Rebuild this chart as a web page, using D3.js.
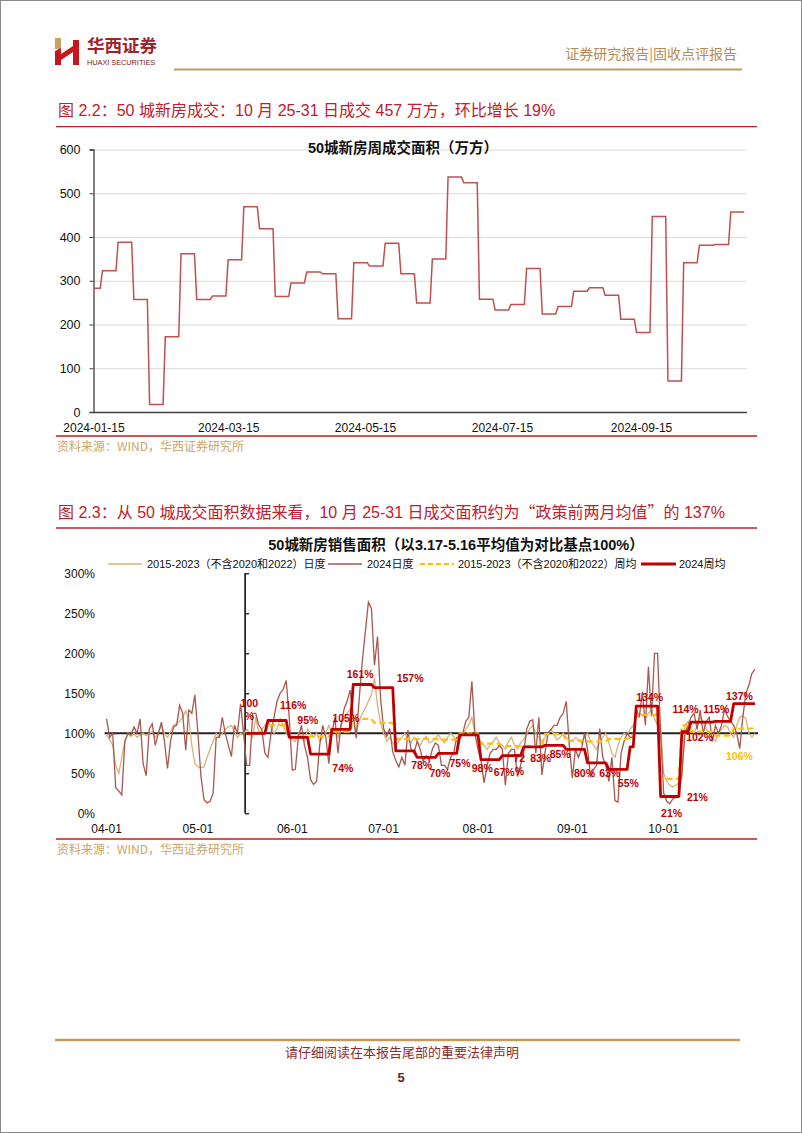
<!DOCTYPE html>
<html><head><meta charset="utf-8">
<script src="https://cdn.jsdelivr.net/npm/d3@7"></script>
<style>body{margin:0;background:#fff}svg{display:block}</style>
</head><body>
<svg id="page" width="802" height="1133"></svg>
<script>
// ---------------- DATA ----------------
// Figure 2.2 : weekly transaction area (万方), weeks Fri–Thu
const weekStart1 = ["2024-01-12","2024-01-19","2024-01-26","2024-02-02","2024-02-09","2024-02-16","2024-02-23",
 "2024-03-01","2024-03-08","2024-03-15","2024-03-22","2024-03-29","2024-04-05","2024-04-12","2024-04-19","2024-04-26",
 "2024-05-03","2024-05-10","2024-05-17","2024-05-24","2024-05-31","2024-06-07","2024-06-14","2024-06-21","2024-06-28",
 "2024-07-05","2024-07-12","2024-07-19","2024-07-26","2024-08-02","2024-08-09","2024-08-16","2024-08-23","2024-08-30",
 "2024-09-06","2024-09-13","2024-09-20","2024-09-27","2024-10-04","2024-10-11","2024-10-18","2024-10-25"];
const weeklyArea = [283,323,388,257,17,172,362,257,265,348,469,419,264,295,320,316,213,341,334,386,316,249,350,537,524,
 258,233,246,328,224,241,276,284,267,212,182,447,71,341,381,383,457];
const y1Ticks = [0,100,200,300,400,500,600];
const x1TickLabels = ["2024-01-15","2024-03-15","2024-05-15","2024-07-15","2024-09-15"];

// Figure 2.3 : daily values from 04-01 to 10-31 (% of 3.17–5.16 average)
const daily2024 = [
 118,95,100,32,28,23,90,100,98,108,100,118,62,47,105,112,85,100,114,90,56,90,108,110,135,125,79,129,125,148,
 100,46,17,13,15,25,95,95,120,100,85,71,110,100,137,100,60,60,125,125,110,105,75,70,100,120,140,150,155,166,120,
 54,55,95,110,85,70,42,36,40,85,110,95,62,100,120,75,110,130,140,154,123,94,144,190,227,264,256,185,221,144,
 106,96,106,77,66,58,70,60,104,80,75,90,80,65,72,65,80,88,85,60,60,55,70,75,95,95,100,115,120,165,100,
 80,66,38,60,75,80,80,85,80,35,75,80,80,46,60,75,105,115,117,75,120,48,75,100,105,110,110,120,125,140,85,
 44,80,70,80,100,80,45,55,60,106,70,60,40,70,16,14,75,90,100,95,95,130,120,152,110,183,121,200,200,100,
 25,15,12,18,20,21,50,100,110,120,125,105,129,100,115,120,90,110,100,110,130,121,115,110,100,81,120,150,160,175,180];
const dailyHist = [
 98,92,85,60,50,70,90,100,96,100,95,98,100,97,100,102,95,100,110,100,95,102,110,112,115,120,128,118,85,62,
 58,57,58,70,80,90,100,95,100,105,108,110,102,95,100,98,105,100,95,120,100,105,110,115,108,100,105,118,110,100,95,
 92,90,100,95,90,105,100,95,100,90,95,100,110,100,105,95,110,118,125,130,122,100,115,125,131,140,148,169,135,113,
 100,90,95,88,85,90,95,100,92,88,95,90,85,92,96,88,90,94,98,92,88,95,100,96,90,92,98,105,110,120,100,
 95,90,85,80,85,90,95,88,85,80,90,95,85,80,88,92,100,105,110,100,95,90,95,100,105,98,92,95,100,95,90,
 90,95,92,88,95,100,90,85,80,90,95,100,88,75,70,85,95,100,98,105,110,120,125,122,120,125,130,118,110,110,
 50,40,35,33,35,38,45,110,115,105,100,110,120,115,105,100,95,90,100,105,110,108,100,95,110,120,122,118,100,95,100];
const weekStart2 = ["2024-05-17","2024-05-24","2024-05-31","2024-06-07","2024-06-14","2024-06-21","2024-06-28",
 "2024-07-05","2024-07-12","2024-07-19","2024-07-26","2024-08-02","2024-08-09","2024-08-16","2024-08-23","2024-08-30",
 "2024-09-06","2024-09-13","2024-09-20","2024-09-22","2024-09-30","2024-10-07","2024-10-10","2024-10-18","2024-10-24"];
const weekEnd2 = "2024-10-31";
const weekly2024 = [100,116,95,74,105,161,157,78,70,75,98,67,72,83,85,80,63,55,83,134,21,102,114,115,137];
const weeklyHist = [100,110,96,96,102,118,113,93,93,92,100,87,84,84,99,91,90,93,95,123,43,110,102,97,106];
const y2Ticks = [0,50,100,150,200,250,300];
const x2TickLabels = ["2024-04-01","2024-05-01","2024-06-01","2024-07-01","2024-08-01","2024-09-01","2024-10-01"];
// annotations: text, days after 04-01, value
const ann2024 = [["100\n%",46.9,137.9],["116%",61.3,135.4],["95%",66.1,116.6],["74%",77.6,56.6],["105%",78.6,119.1],
 ["161%",83.3,174.1],["157%",99.7,169.1],["78%",103.5,60.4],["70%",109.5,50.4],["75%",116.1,62.9],["98%",123.4,56.6],
 ["67%",130.6,51.6],["72\n%",135.6,69.1],["83%",142.6,69.1],["85%",149.0,73.4],["80%",157,50.4],["63%",165.3,50.4],
 ["55%",171.4,37.9],["134%",178.4,145.4],["21%",185.6,0.4],["21%",194.1,20.4],["102%",194.8,95.4],["114%",190.2,130.4],
 ["115%",200.3,130.4],["137%",207.9,146.6]];
const annHist = [["106%",207.9,71.6]];

// ---------------- DRAW ----------------
const svg = d3.select("#page");
const SANS = "'Liberation Sans','Noto Sans CJK SC',sans-serif";
const CJK = "'Noto Sans CJK SC','Liberation Sans',sans-serif";
const parse = d3.timeParse("%Y-%m-%d");
const RED = "#C0202A", TAN = "#C49A5A";

svg.append("rect").attr("x",0.5).attr("y",0.5).attr("width",801).attr("height",1132)
  .attr("fill","#fff").attr("stroke","#8a8a8a");

// header logo
const logo = svg.append("g");
logo.append("rect").attr("x",55).attr("y",38).attr("width",6).attr("height",11).attr("fill","#C9A063");
logo.append("path").attr("d","M55,51 L61,48 L61,65 L55,65 Z").attr("fill","#C8161D");
logo.append("path").attr("d","M61,54 L73,46 L73,52 L61,60 Z").attr("fill","#C8161D");
logo.append("rect").attr("x",73).attr("y",40).attr("width",6).attr("height",25).attr("fill","#C8161D");
svg.append("text").attr("x",87).attr("y",52).text("华西证券")
  .attr("font-family",CJK).attr("font-weight","bold").attr("font-size",17.5).attr("fill","#A0222A");
svg.append("text").attr("x",87).attr("y",64.5).text("HUAXI SECURITIES")
  .attr("font-family",SANS).attr("font-size",7.3).attr("fill","#7a2020");
svg.append("text").attr("x",737).attr("y",58.5).attr("text-anchor","end").text("证券研究报告|固收点评报告")
  .attr("font-family",CJK).attr("font-size",14).attr("fill","#B58C55");
svg.append("line").attr("x1",174).attr("x2",742).attr("y1",69.5).attr("y2",69.5).attr("stroke",TAN).attr("stroke-width",2);

// captions
function caption(y, parts){
  const t = svg.append("text").attr("x",58).attr("y",y).attr("font-family",SANS).attr("font-size",16).attr("fill",RED);
  parts.forEach(p=>t.append("tspan").attr("font-family",p[1]?CJK:SANS).text(p[0]));
}
caption(116,[["图",1],[" 2.2"],["：",1],["50 "],["城新房成交：",1],["10 "],["月",1],[" 25-31 "],["日成交",1],[" 457 "],["万方，环比增长",1],[" 19%"]]);
caption(518,[["图",1],[" 2.3"],["：从",1],[" 50 "],["城成交面积数据来看，",1],["10 "],["月",1],[" 25-31 "],["日成交面积约为“政策前两月均值”的",1],[" 137%"]]);
[126.7,528].forEach(y=>svg.append("line").attr("x1",56).attr("x2",757).attr("y1",y).attr("y2",y).attr("stroke",RED).attr("stroke-width",1.3));
[436,839].forEach(y=>svg.append("line").attr("x1",56).attr("x2",757).attr("y1",y).attr("y2",y).attr("stroke","#CF5656").attr("stroke-width",1.8));
[451,854].forEach(y=>svg.append("text").attr("x",57).attr("y",y).text("资料来源：WIND，华西证券研究所")
  .attr("font-family",CJK).attr("font-size",12).attr("fill","#C9A66B"));

// ---------- chart 1 ----------
const x1 = d3.scaleTime().domain([parse("2024-01-15"), parse("2024-11-01")]).range([93.5,746.5]).clamp(true);
const y1 = d3.scaleLinear().domain([0,600]).range([412,149.5]);
const g1 = svg.append("g");
g1.append("g").attr("transform","translate(93.5,0)")
  .call(d3.axisLeft(y1).tickValues(y1Ticks.slice(1)).tickSize(-653).tickFormat(""))
  .call(g=>g.select(".domain").remove())
  .call(g=>g.selectAll("line").attr("stroke","#D9D9D9"));
g1.append("g").attr("transform","translate(93.5,0)")
  .call(d3.axisLeft(y1).tickValues(y1Ticks).tickSize(4).tickPadding(9))
  .call(g=>g.select(".domain").attr("stroke","#404040").attr("stroke-width",1.3))
  .call(g=>g.selectAll("line").attr("stroke","#404040"))
  .call(g=>g.selectAll("text").attr("font-family",SANS).attr("font-size",12.5).attr("fill","#111"));
g1.append("g").attr("transform","translate(0,412)")
  .call(d3.axisBottom(x1).tickValues(x1TickLabels.map(parse)).tickSize(0).tickPadding(11).tickFormat(d3.timeFormat("%Y-%m-%d")))
  .call(g=>g.select(".domain").attr("stroke","#404040").attr("stroke-width",1.3))
  .call(g=>g.selectAll("text").attr("font-family",SANS).attr("font-size",12).attr("fill","#111"));
const pts1 = [];
weekStart1.forEach((s,i)=>{const d=parse(s); pts1.push([d,weeklyArea[i]]); pts1.push([d3.timeDay.offset(d,6),weeklyArea[i]]);});
g1.append("path").datum(pts1).attr("fill","none").attr("stroke","#C0504D").attr("stroke-width",1.5)
  .attr("d",d3.line().x(d=>x1(d[0])).y(d=>y1(d[1])));
g1.append("text").attr("x",403).attr("y",152.5).attr("text-anchor","middle").attr("font-weight","bold")
  .attr("font-size",14.5).attr("font-family",CJK).attr("fill","#111")
  .call(t=>{t.append("tspan").attr("font-family",SANS).text("50");t.append("tspan").text("城新房周成交面积（万方）");});

// ---------- chart 2 ----------
const day0 = parse("2024-04-01");
const x2 = d3.scaleTime().domain([day0, parse("2024-11-01")]).range([106.6, 106.6+214*3.044]);
const y2 = d3.scaleLinear().domain([0,300]).range([813.3,573.3]);
const dayAt = d => new Date(day0.getTime() + d*86400000);
const days = d3.timeDay.range(day0, parse("2024-11-01"));
const g2 = svg.append("g");
// title
g2.append("text").attr("x",456).attr("y",550).attr("text-anchor","middle").attr("font-weight","bold")
  .attr("font-size",14.5).attr("font-family",CJK).attr("fill","#111")
  .call(t=>{t.append("tspan").attr("font-family",SANS).text("50");t.append("tspan").text("城新房销售面积（以");
    t.append("tspan").attr("font-family",SANS).text("3.17-5.16");t.append("tspan").text("平均值为对比基点");
    t.append("tspan").attr("font-family",SANS).text("100%");t.append("tspan").text("）");});
// legend
const leg = [
  {x1:108,x2:142,tx:147,label:"2015-2023（不含2020和2022）日度",stroke:"#D8B27A",w:1.5,dash:null},
  {x1:328,x2:362,tx:367,label:"2024日度",stroke:"#A9574F",w:1.5,dash:null},
  {x1:420,x2:454,tx:458,label:"2015-2023（不含2020和2022）周均",stroke:"#FFC000",w:2.2,dash:"5,3"},
  {x1:641,x2:676,tx:679,label:"2024周均",stroke:"#C00000",w:2.8,dash:null}];
leg.forEach(l=>{
  g2.append("line").attr("x1",l.x1).attr("x2",l.x2).attr("y1",564).attr("y2",564).attr("stroke",l.stroke)
    .attr("stroke-width",l.w).attr("stroke-dasharray",l.dash);
  g2.append("text").attr("x",l.tx).attr("y",568).text(l.label).attr("font-family",SANS).attr("font-size",11).attr("fill","#111");
});
// y labels
g2.selectAll(".yl").data(y2Ticks).join("text").attr("x",95).attr("y",d=>y2(d)+4.3).attr("text-anchor","end")
  .text(d=>d+"%").attr("font-family",SANS).attr("font-size",12).attr("fill","#111");
// x labels
g2.selectAll(".xl").data(x2TickLabels.map(parse)).join("text").attr("x",d=>x2(d)).attr("y",832.5).attr("text-anchor","middle")
  .text(d3.timeFormat("%m-%d")).attr("font-family",SANS).attr("font-size",12).attr("fill","#111");
// 100% axis line
g2.append("line").attr("x1",x2(day0)-2).attr("x2",x2(parse("2024-11-01"))).attr("y1",y2(100)).attr("y2",y2(100))
  .attr("stroke","#222").attr("stroke-width",2);
// vertical axis at 5-17
const axX = x2(new Date(parse("2024-05-16").getTime()+43200000));
g2.append("g").attr("transform",`translate(${axX},0)`)
  .call(d3.axisRight(y2).tickValues(y2Ticks).tickSize(4).tickFormat(""))
  .call(g=>g.select(".domain").attr("stroke","#000").attr("stroke-width",1.5).attr("d","M0,573.3V813.3"))
  .call(g=>g.selectAll("line").attr("stroke","#000").attr("stroke-width",1.2));
// daily lines
const line2 = d3.line().x(d=>x2(d[0])).y(d=>y2(d[1]));
g2.append("path").datum(days.map((d,i)=>[d,dailyHist[i]])).attr("fill","none").attr("stroke","#D8B27A").attr("stroke-width",1.3).attr("d",line2);
g2.append("path").datum(days.map((d,i)=>[d,daily2024[i]])).attr("fill","none").attr("stroke","#A9574F").attr("stroke-width",1.3).attr("d",line2);
// weekly steps
function steps(vals){
  const p=[];
  weekStart2.forEach((s,i)=>{
    const a=parse(s), b=i<weekStart2.length-1?d3.timeDay.offset(parse(weekStart2[i+1]),-1):parse(weekEnd2);
    p.push([a,vals[i]]); p.push([b,vals[i]]);
  });
  return p;
}
g2.append("path").datum(steps(weeklyHist)).attr("fill","none").attr("stroke","#FFC000").attr("stroke-width",2.2)
  .attr("stroke-dasharray","6,3.5").attr("d",line2);
g2.append("path").datum(steps(weekly2024)).attr("fill","none").attr("stroke","#C00000").attr("stroke-width",2.8)
  .attr("stroke-linejoin","round").attr("d",line2);
// annotations
function annotate(list, color){
  list.forEach(a=>{
    const t=g2.append("text").attr("x",x2(dayAt(a[1]))).attr("y",y2(a[2])).attr("text-anchor","middle")
      .attr("font-family",SANS).attr("font-weight","bold").attr("font-size",10.5).attr("fill",color);
    a[0].split("\n").forEach((s,k)=>t.append("tspan").attr("x",x2(dayAt(a[1]))).attr("dy",k===0?"0.36em":"1.25em").text(s));
  });
}
annotate(ann2024,"#C00000");
annotate(annHist,"#FFC000");

// footer
svg.append("line").attr("x1",55).attr("x2",740).attr("y1",1040).attr("y2",1040).attr("stroke",TAN).attr("stroke-width",2.5);
svg.append("text").attr("x",402).attr("y",1057).attr("text-anchor","middle").text("请仔细阅读在本报告尾部的重要法律声明")
  .attr("font-family",CJK).attr("font-size",13).attr("fill","#8B2C2C");
svg.append("text").attr("x",401).attr("y",1082).attr("text-anchor","middle").text("5")
  .attr("font-family",SANS).attr("font-weight","bold").attr("font-size",13).attr("fill","#6B1F1F");
</script>
</body></html>
